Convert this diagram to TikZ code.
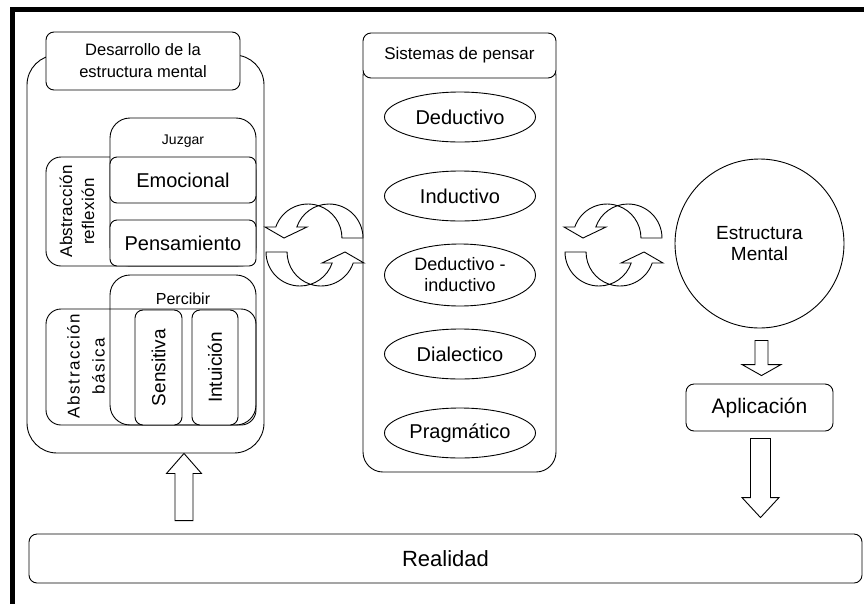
\documentclass[tikz,border=0pt]{standalone}
\usepackage{fontspec}
\setmainfont{Liberation Sans}
\newfontfamily\lightspaced[LetterSpace=2]{Liberation Sans}
\newfontfamily\widespaced[LetterSpace=9]{Liberation Sans}
\usepackage{tikz}
\usetikzlibrary{calc,positioning,shapes.geometric}
\newcommand{\fs}[2]{\fontsize{#1}{#2}\selectfont}
\tikzset{
        box/.style = {draw, rectangle, rounded corners=8pt, inner sep=0pt,
            fill=white, line width=0.9pt},
        bigbox/.style = {box, rounded corners=30pt},
        groupbox/.style = {box, rounded corners=20pt},
        sidebox/.style = {box, rounded corners=15pt},
        oval/.style = {draw, ellipse, fill=white, inner sep=0pt, line width=0.9pt,
            minimum width=151pt, minimum height=50pt, align=center, font=\fs{20}{22}},
        fatarrow/.style = {draw, fill=white, line width=0.9pt, line join=miter},
        cyclearrow/.pic = {
            \draw[fatarrow] (48.5,7) arc[start angle=0, end angle=161.1, radius=34]
                -- (-7.5,18) -- (-30.5,7) -- (-49.5,18) -- (-38.7,18)
                arc[start angle=161.1, end angle=0, radius=34] -- cycle;
        },
    }
% block arrow from tail to tip: shaft half width, head half width, head length
\newcommand{\fatarrow}[5]{%
    \draw[fatarrow] let \p1=(#1), \p2=(#2), \n1={sign(\y2-\y1)*#5} in
        (\x1-#3pt,\y1) -- (\x1-#3pt,\y2-\n1) -- (\x1-#4pt,\y2-\n1) -- (\x1,\y2)
        -- (\x1+#4pt,\y2-\n1) -- (\x1+#3pt,\y2-\n1) -- (\x1+#3pt,\y1) -- cycle;}

\begin{document}
\begin{tikzpicture}[x=1pt, y=1pt]
    \useasboundingbox[fill=white] (0,0) rectangle (864,-603);
    \clip (0,0) rectangle (864,-603);
    \draw[line width=5pt, line join=miter] (12.5,-610) -- (12.5,-9.5) -- (870,-9.5);

    % desarrollo de la estructura mental
    \node[bigbox, minimum width=237pt, minimum height=398pt] (desarrollo) at (145.5,-254) {};
    \node[box, minimum width=194pt, minimum height=58pt, align=center, font=\fs{16.5}{22}]
        (desTitle) at (143,-61) {Desarrollo de la\\estructura mental};

    \node[sidebox, minimum width=210pt, minimum height=109pt] (reflexion) at (151,-211.5) {};
    \node[groupbox, minimum width=146pt, minimum height=148pt] (juzgar) at (183,-192) {};
    \node[font=\fs{14}{16}] (juzgarLbl) at (183,-141) {Juzgar};
    \node[box, rounded corners=7pt, minimum width=146pt, minimum height=46pt, font=\fs{20}{22}]
        (emocional) at (183,-180) {Emocional};
    \node[box, rounded corners=7pt, minimum width=146pt, minimum height=46pt, font=\fs{20}{22}]
        (pensamiento) at (183,-243) {Pensamiento};
    \node[rotate=90, align=center, font=\lightspaced\fs{17}{22}]
        (reflexionLbl) at (77,-211.5) {Abstracción\\reflexión};

    \node[sidebox, minimum width=210pt, minimum height=116pt] (basica) at (151,-367) {};
    \node[groupbox, fill=none, minimum width=146pt, minimum height=150pt] (percibir) at (183,-350) {};
    \node[font=\fs{16}{18}] (percibirLbl) at (183,-299) {Percibir};
    \node[rotate=90, align=center, font=\widespaced\fs{17}{25}]
        (basicaLbl) at (86,-366) {Abstracción\\básica};
    \node[box, rotate=90, minimum width=115pt, minimum height=47pt, font=\fs{19}{21}]
        (sensitiva) at (158.5,-367.5) {Sensitiva};
    \node[box, rotate=90, minimum width=115pt, minimum height=46pt, font=\fs{19}{21}]
        (intuicion) at (215,-367.5) {Intuición};

    % sistemas de pensar
    \node[groupbox, minimum width=193pt, minimum height=416pt] (pensar) at (459.5,-264) {};
    \node[box, minimum width=193pt, minimum height=45pt, font=\fs{17}{19}]
        (pensarTitle) at (459.5,-55.5) {Sistemas de pensar};
    \node[oval] (deductivo) at (460,-117) {Deductivo};
    \begin{scope}[node distance=79pt, on grid]
        \node[oval, below=of deductivo] (inductivo) {Inductivo};
        \node[oval, below=of inductivo, minimum height=62pt, font=\fs{18}{21}]
            (dedind) {Deductivo -\\inductivo};
        \node[oval, below=of dedind] (dialectico) {Dialectico};
        \node[oval, below=of dialectico] (pragmatico) {Pragmático};
    \end{scope}

    % estructura mental
    \node[draw, circle, line width=0.9pt, minimum size=169pt, align=center, font=\fs{19}{21}]
        (mental) at (759.5,-243.5) {Estructura\\Mental};
    \node[box, minimum width=147pt, minimum height=47pt, font=\fs{21}{23}]
        (aplicacion) at (759.5,-407.5) {Aplicación};
    \node[box, minimum width=833pt, minimum height=49pt, font=\fs{22}{24}]
        (realidad) at (445.5,-558.5) {Realidad};

    % ciclos
    \pic (cycLeftA) at (314.5,-245) {cyclearrow};
    \pic[rotate=180] (cycLeftB) at (314.5,-245) {cyclearrow};
    \pic (cycRightA) at (613.5,-245) {cyclearrow};
    \pic[rotate=180] (cycRightB) at (613.5,-245) {cyclearrow};

    % flechas
    \coordinate (upTip) at ([xshift=38.5pt]desarrollo.south);
    \coordinate (upTail) at ([yshift=13pt]realidad.north -| upTip);
    \coordinate (mentalTail) at ([xshift=2pt,yshift=-12pt]mental.south);
    \coordinate (mentalTip) at ([xshift=2pt,yshift=8pt]aplicacion.north);
    \coordinate (aplicTail) at ([xshift=1pt,yshift=-7pt]aplicacion.south);
    \coordinate (aplicTip) at ([yshift=16pt]realidad.north -| aplicTail);
    \fatarrow{upTail}{upTip}{9}{17.5}{20}
    \fatarrow{mentalTail}{mentalTip}{6.5}{19.5}{11}
    \fatarrow{aplicTail}{aplicTip}{10}{18.5}{20}
\end{tikzpicture}
\end{document}
